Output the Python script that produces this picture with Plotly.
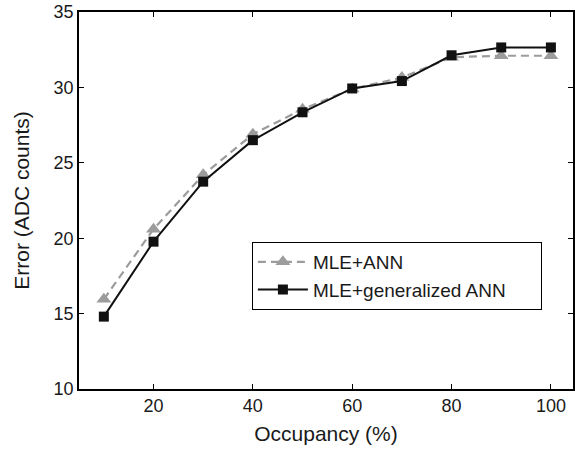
import plotly.graph_objects as go

# Occupancy levels (%) and reconstruction error (ADC counts)
occupancy = [10, 20, 30, 40, 50, 60, 70, 80, 90, 100]
err_mle_ann = [15.95, 20.6, 24.2, 26.9, 28.55, 29.9, 30.65, 32.0, 32.1, 32.1]
err_mle_gen_ann = [14.8, 19.77, 23.75, 26.5, 28.35, 29.93, 30.42, 32.13, 32.65, 32.65]

x_ticks = [20, 40, 60, 80, 100]
y_ticks = [10, 15, 20, 25, 30, 35]

FONT = "Liberation Sans, Arial, Helvetica, sans-serif"

fig = go.Figure()

fig.add_trace(go.Scatter(
    x=occupancy, y=err_mle_ann, name="MLE+ANN",
    mode="lines+markers",
    line=dict(color="#9c9c9c", width=2.2, dash="8px,5px"),
    marker=dict(symbol="triangle-up", size=13, color="#9c9c9c"),
))
fig.add_trace(go.Scatter(
    x=occupancy, y=err_mle_gen_ann, name="MLE+generalized ANN",
    mode="lines+markers",
    line=dict(color="#111111", width=2),
    marker=dict(symbol="square", size=10, color="#111111"),
))

axis_common = dict(
    showline=True, linecolor="black", linewidth=1.5, mirror="ticks",
    ticks="inside", ticklen=5, tickwidth=1, tickcolor="black",
    showgrid=False, zeroline=False,
    tickfont=dict(family=FONT, size=18, color="#1a1a1a"),
)

fig.update_xaxes(
    range=[5, 104.45], tickvals=x_ticks,
    title=dict(text="Occupancy (%)", font=dict(family=FONT, size=21, color="#1a1a1a"), standoff=11),
    **axis_common,
)
fig.update_yaxes(
    range=[10, 35], tickvals=y_ticks,
    title=dict(text="Error (ADC counts)", font=dict(family=FONT, size=21, color="#1a1a1a"), standoff=18),
    **axis_common,
)

fig.update_layout(
    width=575, height=451,
    margin=dict(l=79, r=0, t=12, b=62),
    plot_bgcolor="white", paper_bgcolor="white",
    showlegend=True,
    legend=dict(
        orientation="h",
        x=0.35, y=0.39, xanchor="left", yanchor="top",
        bgcolor="white", bordercolor="black", borderwidth=1,
        font=dict(family=FONT, size=19, color="#1a1a1a"),
        itemwidth=50, entrywidth=223, entrywidthmode="pixels",
    ),
)

fig.write_html("out.html")
